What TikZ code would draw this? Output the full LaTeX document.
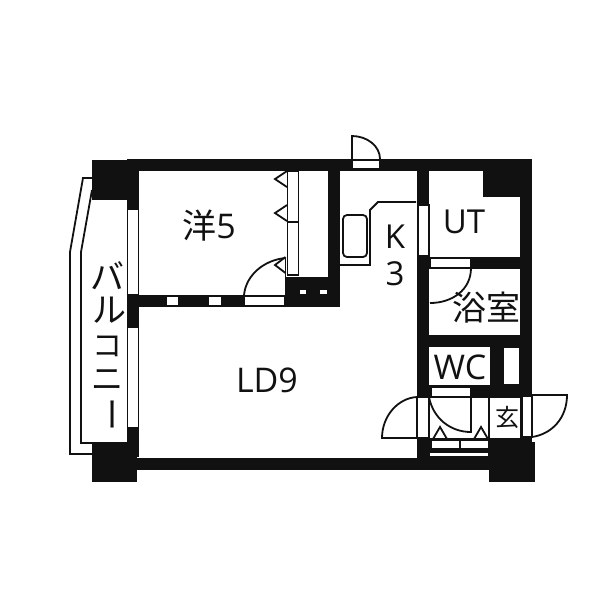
\documentclass[tikz,border=0pt]{standalone}
\usepackage{fontspec}
\setmainfont{Open Sans}
\newfontfamily\jpfont{Noto Sans CJK JP}
\definecolor{wallblack}{HTML}{111111}
\tikzset{
  wall/.style = {fill = wallblack, draw = none},
  opening/.style = {draw = wallblack, fill = white, line width = 1.3pt},
  thin/.style = {draw = wallblack, line width = 1.8pt},
  roomtext/.style = {text = wallblack, inner sep = 0pt},
}
\begin{document}
\begin{tikzpicture}[x = 1pt, y = -1pt]
      \useasboundingbox (0, 0) rectangle (600, 600);
      \fill[white] (0, 0) rectangle (600, 600);

      % walls
      \path[wall] (127, 159) rectangle (532, 171);
      \path[wall] (92, 160) rectangle (127, 200);
      \path[wall] (127, 160) rectangle (139, 457);
      \path[wall] (127, 295) rectangle (340, 307);
      \path[wall] (92, 442) rectangle (137, 482);
      \path[wall] (137, 458) rectangle (490, 470);
      \path[wall] (489, 439) rectangle (521, 482);
      \path[wall] (489, 442) rectangle (535, 482);
      \path[wall] (520, 159) rectangle (532, 396);
      \path[wall] (521, 437) rectangle (532, 442);
      \path[wall] (483, 165) rectangle (532, 197);
      \path[wall] (417, 165) rectangle (429, 397);
      \path[wall] (417, 438) rectangle (429, 460);
      \path[wall] (429, 257) rectangle (520, 269);
      \path[wall] (417, 335) rectangle (532, 347);
      \path[wall] (490, 347) rectangle (503, 397);
      \path[wall] (417, 385) rectangle (532, 397);
      \path[wall] (328, 165) rectangle (340, 307);
      \path[wall] (286, 277) rectangle (340, 307);
      \path[wall] (429, 439) rectangle (490, 460);

      % windows and door openings
      \path[opening] (127.5, 209) rectangle (138.5, 295);
      \path[opening] (127.5, 327) rectangle (138.5, 428);
      \path[opening] (166, 296) rectangle (179, 306);
      \path[opening] (208, 296) rectangle (222, 306);
      \path[opening] (244, 296) rectangle (285, 306);
      \path[opening] (352, 160) rectangle (380, 169);
      \path[opening] (418, 205) rectangle (429, 256);
      \path[opening] (430, 258) rectangle (471, 268);
      \path[opening] (503, 347) rectangle (520, 385);
      \path[opening] (431, 387) rectangle (471, 397);
      \path[opening] (417, 397) rectangle (429, 438);
      \path[opening] (522, 396) rectangle (532, 437);
      \path[opening] (431, 440) rectangle (460, 449);
      \path[opening] (460, 440) rectangle (489, 449);
      \path[opening] (429, 452) rectangle (489, 457);
      \path[opening] (287.5, 171) rectangle (298.5, 222);
      \path[opening] (287.5, 222) rectangle (298.5, 275);
      \path[opening] (299, 289) rectangle (307, 295);
      \path[opening] (319, 289) rectangle (328, 295);

      % closet
      \draw[thin] (285.5, 258) -- (285.5, 296);
      \foreach \ty in {179, 213} {
        \draw[thin] (287, \ty - 8) -- (275, \ty) -- (287, \ty + 8);
      }
      \draw[thin] (285.5, 257) -- (275, 265) -- (285.5, 273);

      % doors
      \draw[thin] (244, 295) .. controls (246, 275) and (264, 260) .. (285.5, 258);
      \draw[thin] (352, 159) -- (352, 136) .. controls (367, 136) and (380, 146) .. (380, 159);
      \draw[thin] (471, 268) .. controls (471, 290) and (452, 303) .. (430, 303);
      \draw[thin] (417, 438) -- (382, 438) .. controls (382, 416) and (398, 398) .. (417, 397);
      \draw[thin] (532, 395) -- (567, 395) .. controls (567, 418) and (552, 434) .. (532, 437);
      \draw[fill = white, thin] (429, 397) rectangle (489, 439);
      \draw[fill = white, thin] (489, 397) rectangle (521, 439);
      \draw[thin] (429, 397) .. controls (433, 418) and (450, 432) .. (471, 432) -- (471, 397);
      \foreach \tx in {440, 481} {
        \draw[thin] (\tx - 7, 439) -- (\tx, 427) -- (\tx + 7, 439);
      }

      % kitchen
      \draw[thin] (340, 265) -- (370, 265) -- (370, 210) -- (378, 202) -- (416, 202);
      \draw[thin, rounded corners = 4pt] (343, 215) rectangle (367, 257);

      % balcony
      \draw[thin] (92, 178) -- (83, 178) -- (70, 252) -- (70, 454) -- (92, 454);
      \draw[thin] (92, 190) -- (81, 252) -- (81, 443) -- (92, 443);

      % labels
      \node[roomtext] (western) at (209, 226) {\fontsize{34}{34}\selectfont\jpfont 洋\rmfamily 5};
      \node[roomtext] (ut) at (464, 222) {\fontsize{33}{33}\selectfont UT};
      \node[roomtext] (kk) at (395, 237) {\fontsize{33}{33}\selectfont K};
      \node[roomtext] (kthree) at (395, 274) {\fontsize{33}{33}\selectfont 3};
      \node[roomtext] (bath) at (486, 308) {\fontsize{34}{34}\selectfont\jpfont 浴室};
      \node[roomtext] (wc) at (460, 367) {\fontsize{34}{34}\selectfont WC};
      \node[roomtext] (entry) at (507, 417) {\fontsize{24}{24}\selectfont\jpfont 玄};
      \node[roomtext] (ld) at (267, 380) {\fontsize{34}{34}\selectfont LD9};
      \node[roomtext] (baa) at (107, 276) {\fontsize{34}{34}\selectfont\jpfont バ};
      \node[roomtext] (ru) at (109, 310) {\fontsize{34}{34}\selectfont\jpfont ル};
      \node[roomtext] (ko) at (107, 346) {\fontsize{30}{30}\selectfont\jpfont コ};
      \node[roomtext] (ni) at (107, 380) {\fontsize{32}{32}\selectfont\jpfont ニ};
      \node[roomtext, rotate = -90] (bar) at (107, 414) {\fontsize{34}{34}\selectfont\jpfont ー};

    \end{tikzpicture}
\end{document}
